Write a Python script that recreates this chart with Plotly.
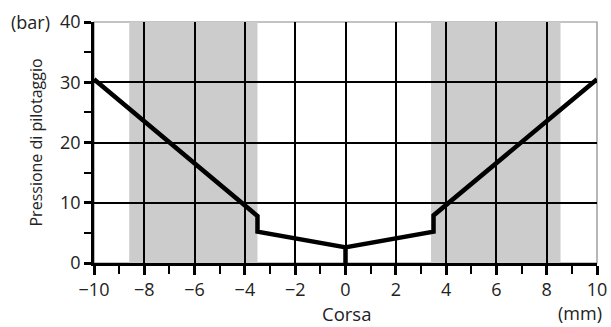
import plotly.graph_objects as go

# Data
corsa = [-10, -3.5, -3.5, 0, 0, 0, 3.5, 3.5, 10]
pressione = [30.5, 7.8, 5.2, 2.6, 0, 2.6, 5.2, 7.9, 30.5]
bande = [(-8.6, -3.5), (3.4, 8.55)]
x_ticks = list(range(-10, 11, 2))
y_ticks = [0, 10, 20, 30, 40]

FONT = "Open Sans"
TXT = "#222222"

fig = go.Figure()
fig.add_trace(go.Scatter(x=corsa, y=pressione, mode="lines",
                         line=dict(color="black", width=4.5),
                         showlegend=False, hoverinfo="skip"))

shapes = []
for x0, x1 in bande:
    shapes.append(dict(type="rect", xref="x", yref="y", x0=x0, x1=x1, y0=0, y1=40,
                       fillcolor="#cccccc", line=dict(width=0), layer="below"))
shapes.append(dict(type="rect", xref="paper", yref="paper", x0=0, x1=1, y0=0, y1=1,
                   line=dict(color="#888888", width=1.2), layer="below"))

fig.update_layout(
    width=611, height=327,
    margin=dict(l=94, r=14, t=22, b=64, autoexpand=False),
    paper_bgcolor="white", plot_bgcolor="white",
    font=dict(family=FONT, size=18, color=TXT),
    shapes=shapes,
    xaxis=dict(range=[-10, 10], tickvals=x_ticks, showgrid=True, gridcolor="black",
               gridwidth=2, zeroline=False, showline=True, linecolor="black", linewidth=2.5,
               ticks="outside", ticklen=9, tickwidth=3, tickcolor="black",
               minor=dict(dtick=1, tick0=0, ticks="outside", ticklen=8, tickwidth=1.5,
                          tickcolor="black", showgrid=False)),
    yaxis=dict(range=[0, 40], tickvals=y_ticks, showgrid=True, gridcolor="black",
               gridwidth=2, zeroline=False, showline=True, linecolor="black", linewidth=2.5,
               ticks="outside", ticklen=7, tickwidth=3, tickcolor="black",
               minor=dict(dtick=5, tick0=0, ticks="outside", ticklen=7, tickwidth=1.5,
                          tickcolor="black", showgrid=False)),
    annotations=[
        dict(text="(bar)", xref="paper", yref="paper", x=0, y=1.0, xshift=-42,
             xanchor="right", yanchor="middle", showarrow=False, font=dict(size=18)),
        dict(text="(mm)", xref="paper", yref="paper", x=1, y=0, xshift=7, yshift=-50,
             xanchor="right", yanchor="middle", showarrow=False, font=dict(size=18)),
        dict(text="Corsa", xref="x", yref="paper", x=0, y=0, xshift=1, yshift=-50,
             xanchor="center", yanchor="middle", showarrow=False, font=dict(size=18.5)),
        dict(text="Pressione di pilotaggio", xref="paper", yref="paper", x=0, y=0.5,
             xshift=-59, yshift=0, textangle=-90,
             xanchor="center", yanchor="middle", showarrow=False, font=dict(size=16)),
    ],
)
fig.write_html("out.html", config={"displayModeBar": False},
               post_script="document.body.style.margin='0';document.body.style.overflow='hidden';")
